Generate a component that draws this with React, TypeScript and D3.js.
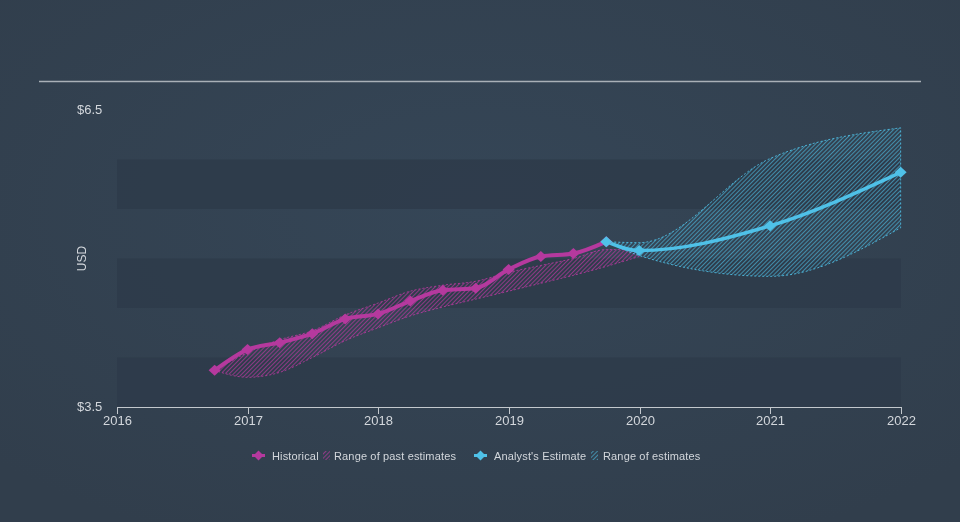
import React from "react";
import * as d3 from "d3";

// quarterly EPS history and analyst forecasts (USD)
const histDates = ["2016-09-30", "2016-12-31", "2017-03-31", "2017-06-30", "2017-09-30", "2017-12-31", "2018-03-31", "2018-06-30", "2018-09-30", "2018-12-31", "2019-03-31", "2019-06-30", "2019-09-30"];
const histValues = [3.87, 4.08, 4.15, 4.24, 4.39, 4.44, 4.57, 4.68, 4.70, 4.89, 5.02, 5.05, 5.17];

const pastDates = [...histDates, "2019-12-31"];
const pastHigh = [3.87, 4.05, 4.18, 4.27, 4.43, 4.55, 4.67, 4.73, 4.77, 4.86, 4.93, 5.0, 5.09, 5.09];
const pastLow = [3.87, 3.8, 3.85, 4.0, 4.17, 4.3, 4.42, 4.51, 4.59, 4.67, 4.75, 4.83, 4.92, 5.02];

const estDates = ["2019-09-30", "2019-12-31", "2020-12-31", "2021-12-31"];
const estValues = [5.17, 5.08, 5.33, 5.87];
const estHigh = [5.17, 5.16, 6.01, 6.32];
const estLow = [5.17, 5.03, 4.82, 5.31];

const yearTicks = [2016, 2017, 2018, 2019, 2020, 2021, 2022];
const yTickLabels = [3.5, 6.5];
const bandStops = [3.5, 4.0, 4.5, 5.0, 5.5, 6.0, 6.5];

const W = 960;
const H = 522;
const MAGENTA = "#b5399e";
const CYAN = "#4fc1e8";
const FONT = "'Liberation Sans', Arial, sans-serif";

const parse = d3.timeParse("%Y-%m-%d");

const x = d3
  .scaleTime()
  .domain([new Date(2016, 0, 1), new Date(2022, 0, 1)])
  .range([117, 901]);
const y = d3.scaleLinear().domain([3.5, 6.5]).range([407, 110]);

type Pt = { d: Date; v: number };
type Rg = { d: Date; lo: number; hi: number };

const hist: Pt[] = histDates.map((s, i) => ({ d: parse(s)!, v: histValues[i] }));
const est: Pt[] = estDates.map((s, i) => ({ d: parse(s)!, v: estValues[i] }));
const past: Rg[] = pastDates.map((s, i) => ({ d: parse(s)!, lo: pastLow[i], hi: pastHigh[i] }));
const fut: Rg[] = estDates.map((s, i) => ({ d: parse(s)!, lo: estLow[i], hi: estHigh[i] }));

const line = d3
  .line<Pt>()
  .x((p) => x(p.d))
  .y((p) => y(p.v))
  .curve(d3.curveMonotoneX);

const area = d3
  .area<Rg>()
  .x((p) => x(p.d))
  .y0((p) => y(p.lo))
  .y1((p) => y(p.hi))
  .curve(d3.curveMonotoneX);

const diamond = (cx: number, cy: number, w = 6, h = 5.5) =>
  `M${cx - w},${cy}L${cx},${cy - h}L${cx + w},${cy}L${cx},${cy + h}Z`;

const Hatch = ({ id, color, op }: { id: string; color: string; op: number }) => (
  <pattern id={id} width={3} height={3} patternUnits="userSpaceOnUse" patternTransform="rotate(45)">
    <line x1={0.5} y1={0} x2={0.5} y2={3} stroke={color} strokeWidth={1} strokeOpacity={op} />
  </pattern>
);

const Band = ({ data, color, pat }: { data: Rg[]; color: string; pat: string }) => (
  <path
    d={area(data)!}
    fill={`url(#${pat})`}
    stroke={color}
    strokeWidth={1}
    strokeDasharray="2,2"
    strokeOpacity={0.85}
  />
);

export default function App() {
  const bands = d3.range(0, bandStops.length - 1, 2).map((i) => [bandStops[i], bandStops[i + 1]]);
  const [x0, x1] = x.range();

  return (
    <div style={{ position: "fixed", left: 0, top: 0 }}>
      <svg width={W} height={H} style={{ display: "block", fontFamily: FONT }}>
        <defs>
          <Hatch id="hatchPast" color={MAGENTA} op={0.7} />
          <Hatch id="hatchEst" color={CYAN} op={0.6} />
          <radialGradient id="bg" cx="50%" cy="40%" r="70%">
            <stop offset="0%" stopColor="#354657" />
            <stop offset="100%" stopColor="#313e4c" />
          </radialGradient>
        </defs>
        <rect width={W} height={H} fill="url(#bg)" />

        {/* alternating value bands */}
        {bands.map(([a, b]) => (
          <rect key={a} x={x0} width={x1 - x0} y={y(b)} height={y(a) - y(b)} fill="#2e3b4a" opacity={0.85} />
        ))}

        <line x1={39} x2={921} y1={81.5} y2={81.5} stroke="#a9b0b7" strokeWidth={1.5} />

        {/* y labels */}
        {yTickLabels.map((v) => (
          <text key={v} x={77} y={y(v) + 4} fontSize={13} fill="#d3d7dc">
            ${v.toFixed(1)}
          </text>
        ))}
        <text
          transform={`translate(86,${(y(3.5) + y(6.5)) / 2}) rotate(-90)`}
          textAnchor="middle"
          fontSize={12}
          fill="#d3d7dc"
        >
          USD
        </text>

        {/* x axis */}
        <line x1={x0} x2={x1} y1={407.5} y2={407.5} stroke="#c3c8cd" strokeWidth={1} />
        {yearTicks.map((t) => {
          const tx = Math.round(x(new Date(t, 0, 1))) + 0.5;
          return (
            <g key={t}>
              <line x1={tx} x2={tx} y1={407} y2={414} stroke="#c3c8cd" strokeWidth={1} />
              <text x={tx} y={425} textAnchor="middle" fontSize={13} fill="#d3d7dc">
                {t}
              </text>
            </g>
          );
        })}

        {/* estimate ranges */}
        <Band data={past} color={MAGENTA} pat="hatchPast" />
        <Band data={fut} color={CYAN} pat="hatchEst" />

        {/* lines */}
        <path d={line(hist)!} fill="none" stroke={MAGENTA} strokeWidth={4} strokeLinejoin="round" />
        <path d={line(est)!} fill="none" stroke={CYAN} strokeWidth={3.5} strokeLinejoin="round" />

        {hist.map((p, i) => (
          <path key={"h" + i} d={diamond(x(p.d), y(p.v))} fill={MAGENTA} />
        ))}
        {est.map((p, i) => (
          <path key={"e" + i} d={diamond(x(p.d), y(p.v))} fill={CYAN} />
        ))}

        {/* legend */}
        <g fontSize={11} fill="#d3d7dc" letterSpacing={0.15}>
          <line x1={252} x2={265} y1={455.5} y2={455.5} stroke={MAGENTA} strokeWidth={3} />
          <path d={diamond(258.5, 455.5, 5, 5)} fill={MAGENTA} />
          <text x={272} y={459.5}>Historical</text>
          <rect x={323} y={451} width={7} height={9} fill="url(#hatchPast)" />
          <text x={334} y={459.5}>Range of past estimates</text>

          <line x1={474} x2={487} y1={455.5} y2={455.5} stroke={CYAN} strokeWidth={3} />
          <path d={diamond(480.5, 455.5, 5, 5)} fill={CYAN} />
          <text x={494} y={459.5}>Analyst's Estimate</text>
          <rect x={591} y={451} width={7} height={9} fill="url(#hatchEst)" />
          <text x={603} y={459.5}>Range of estimates</text>
        </g>
      </svg>
    </div>
  );
}
